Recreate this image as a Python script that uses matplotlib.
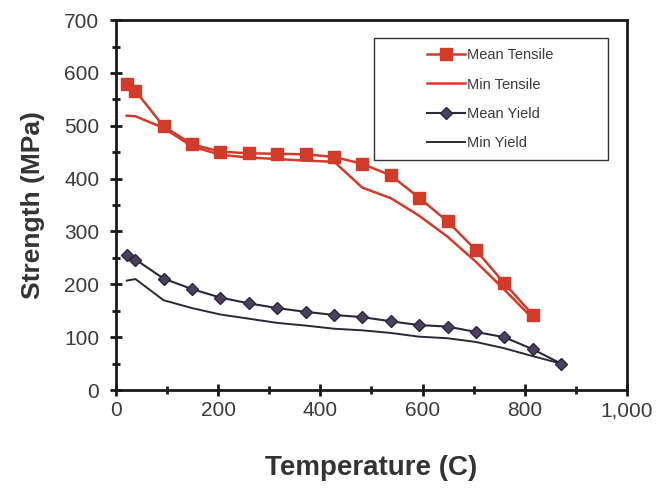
import matplotlib
matplotlib.use("Agg")
import matplotlib.pyplot as plt
from matplotlib.ticker import MultipleLocator, FuncFormatter
from matplotlib.patches import Rectangle

plt.rcParams['font.family'] = ['Liberation Sans', 'DejaVu Sans']

temps = [21, 38, 93, 149, 204, 260, 316, 371, 427, 482, 538, 593, 649, 704, 760, 816, 871]
mean_tensile = [580, 566, 499, 465, 451, 448, 447, 446, 441, 428, 406, 364, 319, 265, 202, 142]
min_tensile = [519, 518, 496, 461, 445, 440, 437, 434, 432, 383, 363, 330, 290, 243, 190, 135]
mean_yield = [255, 247, 211, 191, 175, 164, 155, 148, 142, 138, 130, 123, 120, 110, 100, 77, 50]
min_yield = [207, 210, 170, 155, 143, 135, 127, 122, 116, 113, 108, 101, 98, 91, 79, 64, 50]

red = '#d23b2a'
dark = '#2a2838'

fig = plt.figure(figsize=(6.61, 4.90), dpi=100)
ax = fig.add_axes([0.1755, 0.204, 0.773, 0.755])

ax.plot(temps[:len(mean_tensile)], mean_tensile, color=red, lw=1.8, marker='s',
        markersize=9, markerfacecolor=red, markeredgecolor=red, label='Mean Tensile', zorder=4)
ax.plot(temps[:len(min_tensile)], min_tensile, color=red, lw=1.8, label='Min Tensile', zorder=3)
ax.plot(temps, mean_yield, color=dark, lw=1.5, marker='D', markersize=6,
        markerfacecolor='#4b4060', markeredgecolor=dark, label='Mean Yield', zorder=4)
ax.plot(temps, min_yield, color=dark, lw=1.4, label='Min Yield', zorder=3)

ax.set_xlim(0, 1000)
ax.set_ylim(0, 700)
ax.xaxis.set_major_locator(MultipleLocator(200))
ax.xaxis.set_minor_locator(MultipleLocator(100))
ax.yaxis.set_major_locator(MultipleLocator(100))
ax.yaxis.set_minor_locator(MultipleLocator(50))
ax.xaxis.set_major_formatter(FuncFormatter(lambda v, p: f"{int(v):,}"))

for s in ax.spines.values():
    s.set_linewidth(2.0)
    s.set_color('#1a1a1a')

ax.tick_params(axis='both', which='major', direction='inout', length=8, width=2,
               labelsize=15, labelcolor='#3a3a3a', color='#1a1a1a')
ax.tick_params(axis='both', which='minor', direction='inout', length=6, width=2, color='#1a1a1a')
ax.tick_params(axis='x', which='major', pad=4)
ax.tick_params(axis='y', which='major', pad=8)

ax.set_xlabel('Temperature (C)', fontsize=20, fontweight='bold', color='#333333', labelpad=25)
ax.set_ylabel('Strength (MPa)', fontsize=19, fontweight='bold', color='#333333', labelpad=14)

# legend frame (wider than the entries, as in the original)
ax.add_patch(Rectangle((0.505, 0.622), 0.458, 0.329, transform=ax.transAxes,
                       facecolor='white', edgecolor='#333333', lw=1.0, zorder=5))
leg = ax.legend(loc='upper left', bbox_to_anchor=(0.608, 0.924), fontsize=10.5,
                frameon=False, handlelength=2.6, handletextpad=0.15,
                labelspacing=1.05, borderpad=0, borderaxespad=0)
leg.set_zorder(6)
for t in leg.get_texts():
    t.set_color('#3a3a3a')

fig.savefig('out.png', dpi=100)
